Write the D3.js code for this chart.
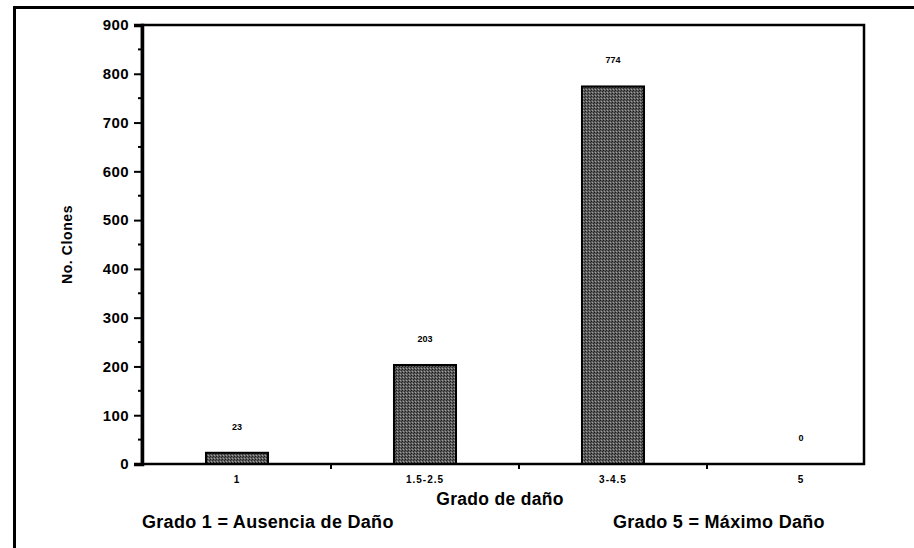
<!DOCTYPE html>
<html>
<head>
<meta charset="utf-8">
<script src="https://cdn.jsdelivr.net/npm/d3@7"></script>
<style>
  body { margin: 0; background: #fff; }
  svg { display: block; font-family: "Liberation Sans", Arial, sans-serif; font-weight: bold; }
</style>
</head>
<body>
<script>
const categories = ["1", "1.5-2.5", "3-4.5", "5"]
const clones = [23, 203, 774, 0]
const yTicks = [0, 100, 200, 300, 400, 500, 600, 700, 800, 900]

const width = 914, height = 548
const margin = ({top: 25, right: 50, bottom: 84, left: 142})
const plotRight = width - margin.right

const svg = d3.select("body").append("svg")
    .attr("width", width)
    .attr("height", height)

// stippled halftone fill for the bars
const defs = svg.append("defs")
const pat = defs.append("pattern")
    .attr("id", "stipple")
    .attr("patternUnits", "userSpaceOnUse")
    .attr("width", 3).attr("height", 3)
pat.append("rect").attr("width", 3).attr("height", 3).attr("fill", "#5c5c5c")
pat.append("rect").attr("width", 1).attr("height", 1).attr("fill", "#1c1c1c")
pat.append("rect").attr("x", 2).attr("y", 1).attr("width", 1).attr("height", 1).attr("fill", "#2a2a2a")
pat.append("rect").attr("x", 1).attr("y", 2).attr("width", 1).attr("height", 1).attr("fill", "#a0a0a0")

// outer frame (top and left edges of scanned box)
svg.append("path")
    .attr("d", `M14.5,${height}V7.5H${width}`)
    .attr("fill", "none")
    .attr("stroke", "#000")
    .attr("stroke-width", 3)

const y = d3.scaleLinear([0, 900], [height - margin.bottom, margin.top])
const x = d3.scaleBand()
    .domain(categories)
    .range([margin.left + 1, margin.left + 1 + 4 * 188])
    .paddingInner(0.67)
    .paddingOuter(0.335)

// plot box
svg.append("rect")
    .attr("x", margin.left)
    .attr("y", y(900))
    .attr("width", plotRight - margin.left)
    .attr("height", y(0) - y(900))
    .attr("fill", "none")
    .attr("stroke", "#000")
    .attr("stroke-width", 2.5)

// y axis
const yAxis = svg.append("g")
    .attr("transform", `translate(${margin.left},0)`)
    .call(d3.axisLeft(y).tickValues(yTicks).tickSize(8).tickPadding(5))
yAxis.select(".domain").attr("stroke-width", 3.5)
yAxis.selectAll(".tick line").attr("stroke-width", 2)
yAxis.selectAll(".tick text")
    .style("font-size", "15px")
    .style("font-weight", "bold")
    .style("letter-spacing", "0.4px")
yAxis.selectAll(".minor")
    .data(yTicks.slice(0, -1).map(v => v + 50))
    .join("line")
    .attr("class", "minor")
    .attr("x1", -4).attr("x2", 0)
    .attr("y1", d => y(d)).attr("y2", d => y(d))
    .attr("stroke", "#000").attr("stroke-width", 2)

// x axis: ticks at category boundaries
const bounds = [1, 2, 3].map(i => (x(categories[i - 1]) + x.bandwidth() + x(categories[i])) / 2)
svg.append("g")
    .selectAll("line")
    .data(bounds)
    .join("line")
    .attr("x1", d => d).attr("x2", d => d)
    .attr("y1", y(0)).attr("y2", y(0) + 5)
    .attr("stroke", "#000").attr("stroke-width", 2)

svg.append("g")
    .selectAll("text")
    .data(categories)
    .join("text")
    .attr("x", d => x(d) + x.bandwidth() / 2)
    .attr("y", y(0) + 19)
    .attr("text-anchor", "middle")
    .style("font-size", "10px")
    .style("letter-spacing", "1px")
    .text(d => d)

// bars
svg.append("g")
    .selectAll("rect")
    .data(clones.map((v, i) => ({cat: categories[i], v})).filter(d => d.v > 0))
    .join("rect")
    .attr("x", d => x(d.cat))
    .attr("y", d => y(d.v))
    .attr("width", x.bandwidth())
    .attr("height", d => y(0) - y(d.v))
    .attr("fill", "url(#stipple)")
    .attr("stroke", "#000")
    .attr("stroke-width", 2)

// value labels
svg.append("g")
    .selectAll("text")
    .data(clones.map((v, i) => ({cat: categories[i], v})))
    .join("text")
    .attr("x", d => x(d.cat) + x.bandwidth() / 2)
    .attr("y", d => y(d.v) - 23)
    .attr("text-anchor", "middle")
    .style("font-size", "9px")
    .text(d => d.v)

// axis titles
svg.append("text")
    .attr("transform", `translate(72,${(y(0) + y(900)) / 2}) rotate(-90)`)
    .attr("text-anchor", "middle")
    .style("font-size", "14px")
    .style("letter-spacing", "0.6px")
    .text("No. Clones")

svg.append("text")
    .attr("x", 500)
    .attr("y", 505)
    .attr("text-anchor", "middle")
    .style("font-size", "17.5px")
    .style("letter-spacing", "0.3px")
    .text("Grado de daño")

svg.append("text")
    .attr("x", 142)
    .attr("y", 528)
    .style("font-size", "18px")
    .style("letter-spacing", "0.3px")
    .text("Grado 1 = Ausencia de Daño")

svg.append("text")
    .attr("x", 613)
    .attr("y", 528)
    .style("font-size", "18px")
    .style("letter-spacing", "0.3px")
    .text("Grado 5 = Máximo Daño")
</script>
</body>
</html>
